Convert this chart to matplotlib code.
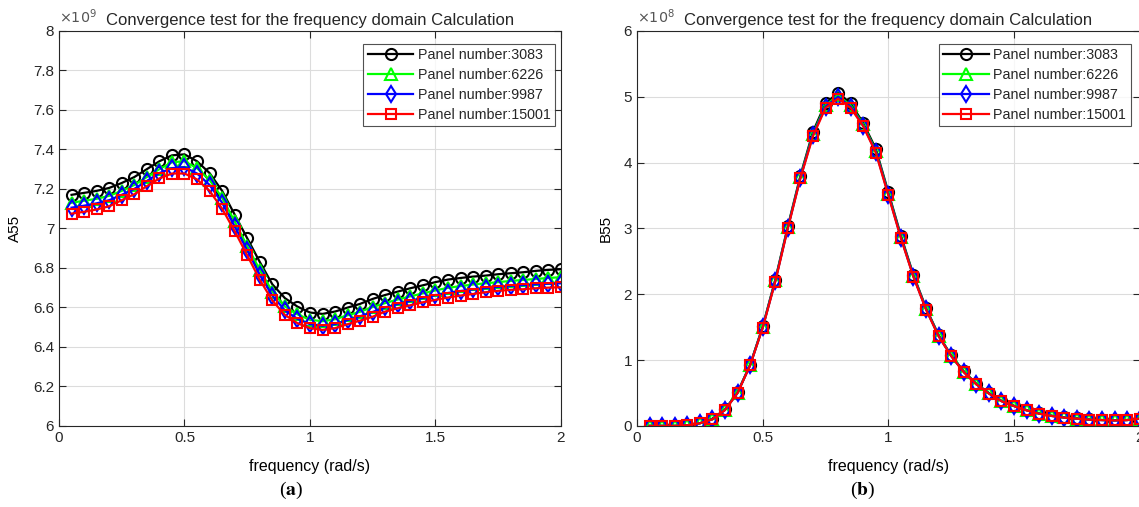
import numpy as np
import matplotlib

matplotlib.use("Agg")
import matplotlib.pyplot as plt
from matplotlib.ticker import FormatStrFormatter, MultipleLocator

plt.rcParams.update({
    "font.family": ["Liberation Sans", "DejaVu Sans"],
    "font.size": 11,
    "axes.linewidth": 0.8,
    "axes.edgecolor": "#262626",
    "text.color": "#262626",
    "xtick.color": "#262626",
    "ytick.color": "#262626",
})

freq = [0.05, 0.10, 0.15, 0.20, 0.25, 0.30, 0.35, 0.40, 0.45, 0.50,
        0.55, 0.60, 0.65, 0.70, 0.75, 0.80, 0.85, 0.90, 0.95, 1.00,
        1.05, 1.10, 1.15, 1.20, 1.25, 1.30, 1.35, 1.40, 1.45, 1.50,
        1.55, 1.60, 1.65, 1.70, 1.75, 1.80, 1.85, 1.90, 1.95, 2.00]

panels = ["Panel number:3083", "Panel number:6226", "Panel number:9987", "Panel number:15001"]

# A55 in units of 1e9
a55_3083 = [7.17, 7.18, 7.19, 7.205, 7.23, 7.26, 7.30, 7.34, 7.37, 7.375,
            7.34, 7.28, 7.19, 7.07, 6.95, 6.83, 6.717, 6.647, 6.604, 6.574,
            6.567, 6.579, 6.599, 6.618, 6.643, 6.663, 6.680, 6.697, 6.712, 6.728,
            6.741, 6.749, 6.756, 6.761, 6.768, 6.773, 6.778, 6.785, 6.790, 6.793]
a55_6226 = [7.13, 7.14, 7.15, 7.165, 7.19, 7.22, 7.26, 7.30, 7.335, 7.34,
            7.305, 7.245, 7.155, 7.035, 6.91, 6.79, 6.68, 6.605, 6.565, 6.537,
            6.530, 6.540, 6.560, 6.578, 6.602, 6.622, 6.640, 6.656, 6.671, 6.686,
            6.699, 6.708, 6.716, 6.722, 6.728, 6.734, 6.739, 6.744, 6.749, 6.753]
a55_9987 = [7.105, 7.115, 7.127, 7.143, 7.17, 7.20, 7.24, 7.28, 7.305, 7.31,
            7.278, 7.22, 7.13, 7.01, 6.89, 6.765, 6.66, 6.585, 6.542, 6.515,
            6.507, 6.515, 6.536, 6.555, 6.577, 6.600, 6.617, 6.633, 6.648, 6.662,
            6.673, 6.683, 6.691, 6.698, 6.704, 6.709, 6.713, 6.717, 6.720, 6.722]
a55_15001 = [7.075, 7.084, 7.096, 7.112, 7.143, 7.173, 7.214, 7.253, 7.278, 7.278,
             7.248, 7.19, 7.10, 6.986, 6.864, 6.74, 6.635, 6.562, 6.520, 6.495,
             6.486, 6.495, 6.515, 6.533, 6.553, 6.579, 6.596, 6.611, 6.626, 6.638,
             6.650, 6.660, 6.668, 6.677, 6.684, 6.689, 6.692, 6.697, 6.700, 6.702]

# B55 in units of 1e8
b55_3083 = [0.00, 0.00, 0.00, 0.01, 0.04, 0.11, 0.25, 0.51, 0.93, 1.51,
            2.22, 3.03, 3.80, 4.47, 4.90, 5.06, 4.90, 4.60, 4.21, 3.55,
            2.89, 2.29, 1.79, 1.38, 1.07, 0.83, 0.64, 0.50, 0.38, 0.305,
            0.24, 0.19, 0.155, 0.13, 0.113, 0.097, 0.09, 0.085, 0.09, 0.112]
b55_6226 = [0.00, 0.00, 0.00, 0.01, 0.04, 0.10, 0.245, 0.505, 0.925, 1.50,
            2.21, 3.02, 3.78, 4.44, 4.87, 5.02, 4.87, 4.58, 4.18, 3.53,
            2.87, 2.275, 1.78, 1.37, 1.065, 0.82, 0.635, 0.495, 0.378, 0.302,
            0.238, 0.188, 0.152, 0.128, 0.112, 0.095, 0.089, 0.084, 0.089, 0.111]
b55_9987 = [0.00, 0.00, 0.00, 0.01, 0.04, 0.10, 0.242, 0.502, 0.922, 1.495,
            2.20, 3.01, 3.77, 4.42, 4.85, 5.00, 4.85, 4.56, 4.165, 3.515,
            2.86, 2.268, 1.772, 1.365, 1.062, 0.818, 0.632, 0.492, 0.376, 0.301,
            0.236, 0.186, 0.151, 0.126, 0.111, 0.094, 0.088, 0.083, 0.088, 0.11]
b55_15001 = [0.00, 0.00, 0.00, 0.01, 0.04, 0.10, 0.24, 0.50, 0.92, 1.49,
             2.19, 3.00, 3.76, 4.40, 4.83, 4.97, 4.83, 4.55, 4.15, 3.50,
             2.85, 2.26, 1.765, 1.36, 1.06, 0.815, 0.63, 0.49, 0.375, 0.30,
             0.235, 0.185, 0.15, 0.125, 0.11, 0.094, 0.088, 0.083, 0.088, 0.11]

STYLES = [("black", "o", 8), ("#00FF00", "^", 8), ("blue", "d", 8), ("red", "s", 7)]

fig = plt.figure(figsize=(11.39, 5.07), dpi=100)
ax_a = fig.add_axes([0.0518, 0.160, 0.4407, 0.779])
ax_b = fig.add_axes([0.5593, 0.160, 0.4413, 0.779])


def draw(ax, series, ylim, ystep, ylabel, exp, tag, tag_x, leg_anchor):
    for s, (c, m, ms), lab in zip(series, STYLES, panels):
        ax.plot(freq, s, color=c, marker=m, markersize=ms, markerfacecolor="none",
                markeredgewidth=1.5, linewidth=1.6, label=lab)
    ax.set_xlim(0, 2)
    ax.set_ylim(*ylim)
    ax.xaxis.set_major_locator(MultipleLocator(0.5))
    ax.yaxis.set_major_locator(MultipleLocator(ystep))
    ax.xaxis.set_major_formatter(FormatStrFormatter("%g"))
    ax.yaxis.set_major_formatter(FormatStrFormatter("%g"))
    ax.tick_params(direction="in", top=True, right=True, length=5, width=0.8, labelsize=11)
    ax.grid(True, color="#dcdcdc", linewidth=0.8)
    ax.set_axisbelow(True)
    ax.set_xlabel("frequency (rad/s)", fontsize=11.5, labelpad=10)
    ax.set_ylabel(ylabel, fontsize=11, labelpad=8)
    ax.set_title("Convergence test for the frequency domain Calculation", fontsize=12, pad=4)
    ax.text(0.0, 1.012, r"$\times10^{%d}$" % exp, transform=ax.transAxes, fontsize=10.3,
            ha="left", va="bottom", color="#555555", math_fontfamily="dejavusans")
    leg = ax.legend(loc="upper right", bbox_to_anchor=leg_anchor, fontsize=10.3,
                    handlelength=3.2, frameon=True, fancybox=False, edgecolor="#262626",
                    borderpad=0.3, labelspacing=0.42, handletextpad=0.3, borderaxespad=0)
    leg.get_frame().set_linewidth(0.8)
    fig.text(tag_x, 0.012, r"($\mathbf{%s}$)" % tag, ha="center", va="bottom",
             fontsize=14, family="Liberation Serif", math_fontfamily="stix", color="black")


draw(ax_a, [a55_3083, a55_6226, a55_9987, a55_15001], (6, 8), 0.2, "A55", 9, "a", 0.2555,
     (0.988, 0.968))
draw(ax_b, [b55_3083, b55_6226, b55_9987, b55_15001], (0, 6), 1, "B55", 8, "b", 0.7577,
     (0.982, 0.968))

fig.savefig("out.png", dpi=100)
